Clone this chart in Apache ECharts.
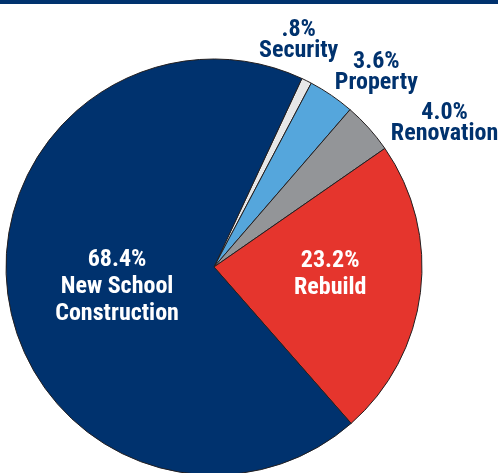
<!DOCTYPE html>
<html>
<head>
<meta charset="utf-8">
<script src="https://cdn.jsdelivr.net/npm/echarts@6/dist/echarts.min.js"></script>
<style>
html,body{margin:0;padding:0;background:#fff;}
#chart{width:498px;height:473px;}
</style>
</head>
<body>
<div id="chart"></div>
<script>
// Data
var categories = ['Security', 'Property', 'Renovation', 'Rebuild', 'New School\nConstruction'];
var values = [0.8, 3.6, 4.0, 23.2, 68.4];
var valueLabels = ['.8%', '3.6%', '4.0%', '23.2%', '68.4%'];
var colors = ['#e6e7e8', '#55a6dc', '#939598', '#e5352d', '#00326e'];

var navy = '#00326e';
var fontFam = "'Roboto Condensed', 'Open Sans Condensed', 'Liberation Sans Narrow', 'Arial Narrow', 'DejaVu Sans Condensed', sans-serif";
// label adjustments (px) relative to the library's inside label anchor
var labelShift = [[37, -131], [102, -106], [151, -72], [10, -6], [9, 5]];
var outside = [true, true, true, false, false];

var chart = echarts.init(document.getElementById('chart'), null, {renderer: 'canvas'});

var data = categories.map(function (c, i) {
  return {
    name: c,
    value: values[i],
    itemStyle: {color: colors[i]},
    label: {
      color: outside[i] ? navy : '#ffffff',
      lineHeight: outside[i] ? 21 : 27
    }
  };
});

chart.setOption({
  animation: false,
  graphic: [{
    type: 'rect',
    shape: {x: 0, y: 0, width: 498, height: 4},
    style: {fill: navy},
    silent: true
  }],
  series: [{
    type: 'pie',
    center: [214, 267],
    radius: [0, 208],
    startAngle: 65,
    clockwise: true,
    avoidLabelOverlap: false,
    minShowLabelAngle: 0,
    silent: true,
    emphasis: {disabled: true},
    itemStyle: {borderColor: '#231f20', borderWidth: 1},
    label: {
      show: true,
      position: 'inside',
      fontFamily: fontFam,
      fontWeight: 'bold',
      fontSize: 24,
      align: 'center',
      formatter: function (p) {
        return valueLabels[p.dataIndex] + '\n' + p.name;
      }
    },
    labelLine: {show: false},
    labelLayout: function (params) {
      var s = labelShift[params.dataIndex];
      return {dx: s[0], dy: s[1]};
    },
    data: data
  }]
});
</script>
</body>
</html>
